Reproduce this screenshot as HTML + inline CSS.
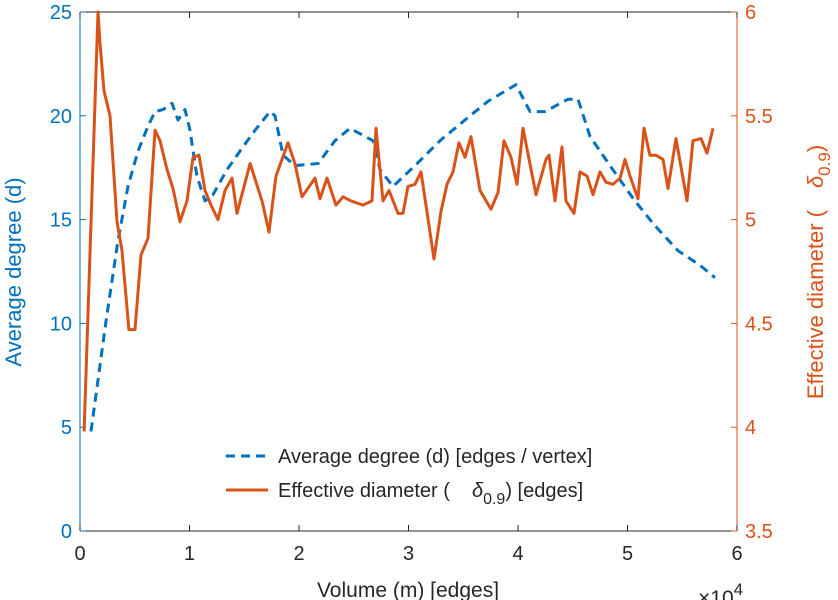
<!DOCTYPE html>
<html><head><meta charset="utf-8"><style>
html,body{margin:0;padding:0;background:#fff;}
svg{display:block;font-family:"Liberation Sans",sans-serif;}
</style></head><body>
<svg id="chart" width="838" height="600" viewBox="0 0 838 600">
<g id="axes"></g>
<g id="series"></g>
<g id="legend">
 <line x1="226" y1="456" x2="268" y2="456" stroke="#0072BD" stroke-width="3" stroke-dasharray="9,6"/>
 <text x="278" y="463" font-size="20" fill="#262626">Average degree (d) [edges / vertex]</text>
 <line x1="226" y1="490" x2="268" y2="490" stroke="#D95319" stroke-width="3"/>
 <text x="278" y="497" font-size="20" fill="#262626">Effective diameter (<tspan dx="22" font-style="italic">δ</tspan><tspan dy="7" font-size="16">0.9</tspan><tspan dy="-7">) [edges]</tspan></text>
</g>
<text x="408" y="597" font-size="21" fill="#262626" text-anchor="middle">Volume (m) [edges]</text>
<text x="698" y="605" font-size="21" fill="#262626">×10<tspan dy="-10" font-size="17">4</tspan></text>
<text transform="translate(21,272) rotate(-90)" font-size="22" fill="#0072BD" text-anchor="middle">Average degree (d)</text>
<text transform="translate(823,272) rotate(-90)" font-size="22" fill="#D95319" text-anchor="middle">Effective diameter (<tspan dx="22" font-style="italic">δ</tspan><tspan dy="7" font-size="17">0.9</tspan><tspan dy="-7">)</tspan></text>
</svg>
<script>
const xTicks=[0,1,2,3,4,5,6];
const leftTicks=[0,5,10,15,20,25];
const rightTicks=[3.5,4,4.5,5,5.5,6];
const rightTickLabels=["3.5","4","4.5","5","5.5","6"];
const degreeX=[0.100,0.237,0.347,0.438,0.530,0.621,0.685,0.758,0.840,0.895,0.959,1.005,1.068,1.142,1.215,1.342,1.461,1.598,1.735,1.781,1.854,1.963,2.174,2.329,2.466,2.676,2.740,2.858,3.059,3.288,3.562,3.726,3.982,4.110,4.247,4.457,4.548,4.658,4.840,5.068,5.251,5.461,5.662,5.799];
const degreeY=[4.8,10.1,14,16.6,18.3,19.5,20.2,20.3,20.6,19.8,20.3,19.3,17.1,15.9,16.2,17.4,18.3,19.3,20.2,20.0,18.1,17.6,17.7,18.8,19.4,18.8,17.4,16.6,17.6,18.8,20.0,20.7,21.5,20.2,20.2,20.8,20.8,19.0,17.6,15.9,14.7,13.5,12.8,12.2];
const diamX=[0.037,0.164,0.183,0.219,0.274,0.338,0.384,0.447,0.502,0.557,0.621,0.685,0.731,0.795,0.849,0.913,0.977,1.032,1.087,1.142,1.196,1.260,1.324,1.388,1.434,1.553,1.662,1.726,1.790,1.900,1.963,2.027,2.146,2.192,2.256,2.338,2.402,2.475,2.584,2.667,2.703,2.767,2.822,2.904,2.950,2.995,3.059,3.114,3.233,3.297,3.352,3.406,3.461,3.516,3.571,3.653,3.753,3.817,3.872,3.936,3.991,4.046,4.164,4.256,4.283,4.338,4.402,4.438,4.511,4.566,4.630,4.685,4.749,4.804,4.868,4.932,4.977,5.023,5.096,5.151,5.205,5.260,5.324,5.370,5.443,5.543,5.598,5.671,5.726,5.781];
const diamY=[3.98,6.0,5.85,5.62,5.5,4.99,4.85,4.47,4.47,4.83,4.91,5.43,5.38,5.24,5.15,4.99,5.09,5.3,5.31,5.14,5.07,5.0,5.14,5.2,5.03,5.27,5.09,4.94,5.21,5.37,5.27,5.11,5.2,5.1,5.2,5.07,5.11,5.09,5.07,5.09,5.44,5.09,5.14,5.03,5.03,5.16,5.17,5.23,4.81,5.04,5.17,5.23,5.37,5.3,5.4,5.14,5.05,5.13,5.38,5.3,5.17,5.44,5.12,5.29,5.31,5.09,5.35,5.09,5.03,5.23,5.21,5.12,5.23,5.18,5.17,5.2,5.29,5.21,5.1,5.44,5.31,5.31,5.29,5.15,5.39,5.09,5.38,5.39,5.32,5.44];

const X0=80,X1=737,YT=12,YB=531;
const sx=v=>X0+(v-0)/(6-0)*(X1-X0);
const syL=v=>YB-(v-0)/(25-0)*(YB-YT);
const syR=v=>YB-(v-3.5)/(6-3.5)*(YB-YT);
const NS="http://www.w3.org/2000/svg";
function mk(tag,attrs,parent){const e=document.createElementNS(NS,tag);for(const k in attrs)e.setAttribute(k,attrs[k]);parent.appendChild(e);return e;}
const axes=document.getElementById('axes');
const series=document.getElementById('series');

let e=mk('line',{x1:X0,y1:YT,x2:X1,y2:YT,stroke:'#262626','stroke-width':1},axes);


e=mk('line',{x1:X0,y1:YB,x2:X1,y2:YB,stroke:'#262626','stroke-width':1},axes);


e=mk('line',{x1:X0,y1:YT,x2:X0,y2:YB,stroke:'#0072BD','stroke-width':1},axes);


e=mk('line',{x1:X1,y1:YT,x2:X1,y2:YB,stroke:'#D95319','stroke-width':1},axes);



xTicks.forEach(t=>{
 const x=sx(t);
 let l=mk('line',{x1:x,y1:YB,x2:x,y2:YB-6,stroke:'#262626'},axes);
 
 
 l=mk('line',{x1:x,y1:YT,x2:x,y2:YT+6,stroke:'#262626'},axes);
 
 
 const tx=mk('text',{x:x,y:560,'font-size':20,fill:'#262626','text-anchor':'middle'},axes);
 tx.textContent=String(t);
 
 
});
leftTicks.forEach(t=>{
 const y=syL(t);
 const l=mk('line',{x1:X0,y1:y,x2:X0+6,y2:y,stroke:'#0072BD'},axes);
 
 
 const tx=mk('text',{x:X0-8,y:y+7,'font-size':20,fill:'#0072BD','text-anchor':'end'},axes);
 tx.textContent=String(t);
 
 
});
rightTicks.forEach((t,i)=>{
 const y=syR(t);
 const l=mk('line',{x1:X1,y1:y,x2:X1-6,y2:y,stroke:'#D95319'},axes);
 
 
 const tx=mk('text',{x:X1+8,y:y+7,'font-size':20,fill:'#D95319'},axes);
 tx.textContent=rightTickLabels[i];
 
 
});

const dPts=degreeX.map((x,i)=>sx(x).toFixed(1)+','+syL(degreeY[i]).toFixed(1)).join(' ');
const p1=mk('polyline',{points:dPts,fill:'none',stroke:'#0072BD','stroke-width':3,'stroke-dasharray':'9,6','stroke-linejoin':'round'},series);


const oPts=diamX.map((x,i)=>sx(x).toFixed(1)+','+syR(diamY[i]).toFixed(1)).join(' ');
const p2=mk('polyline',{points:oPts,fill:'none',stroke:'#D95319','stroke-width':3,'stroke-linejoin':'round'},series);


</script>
</body></html>
